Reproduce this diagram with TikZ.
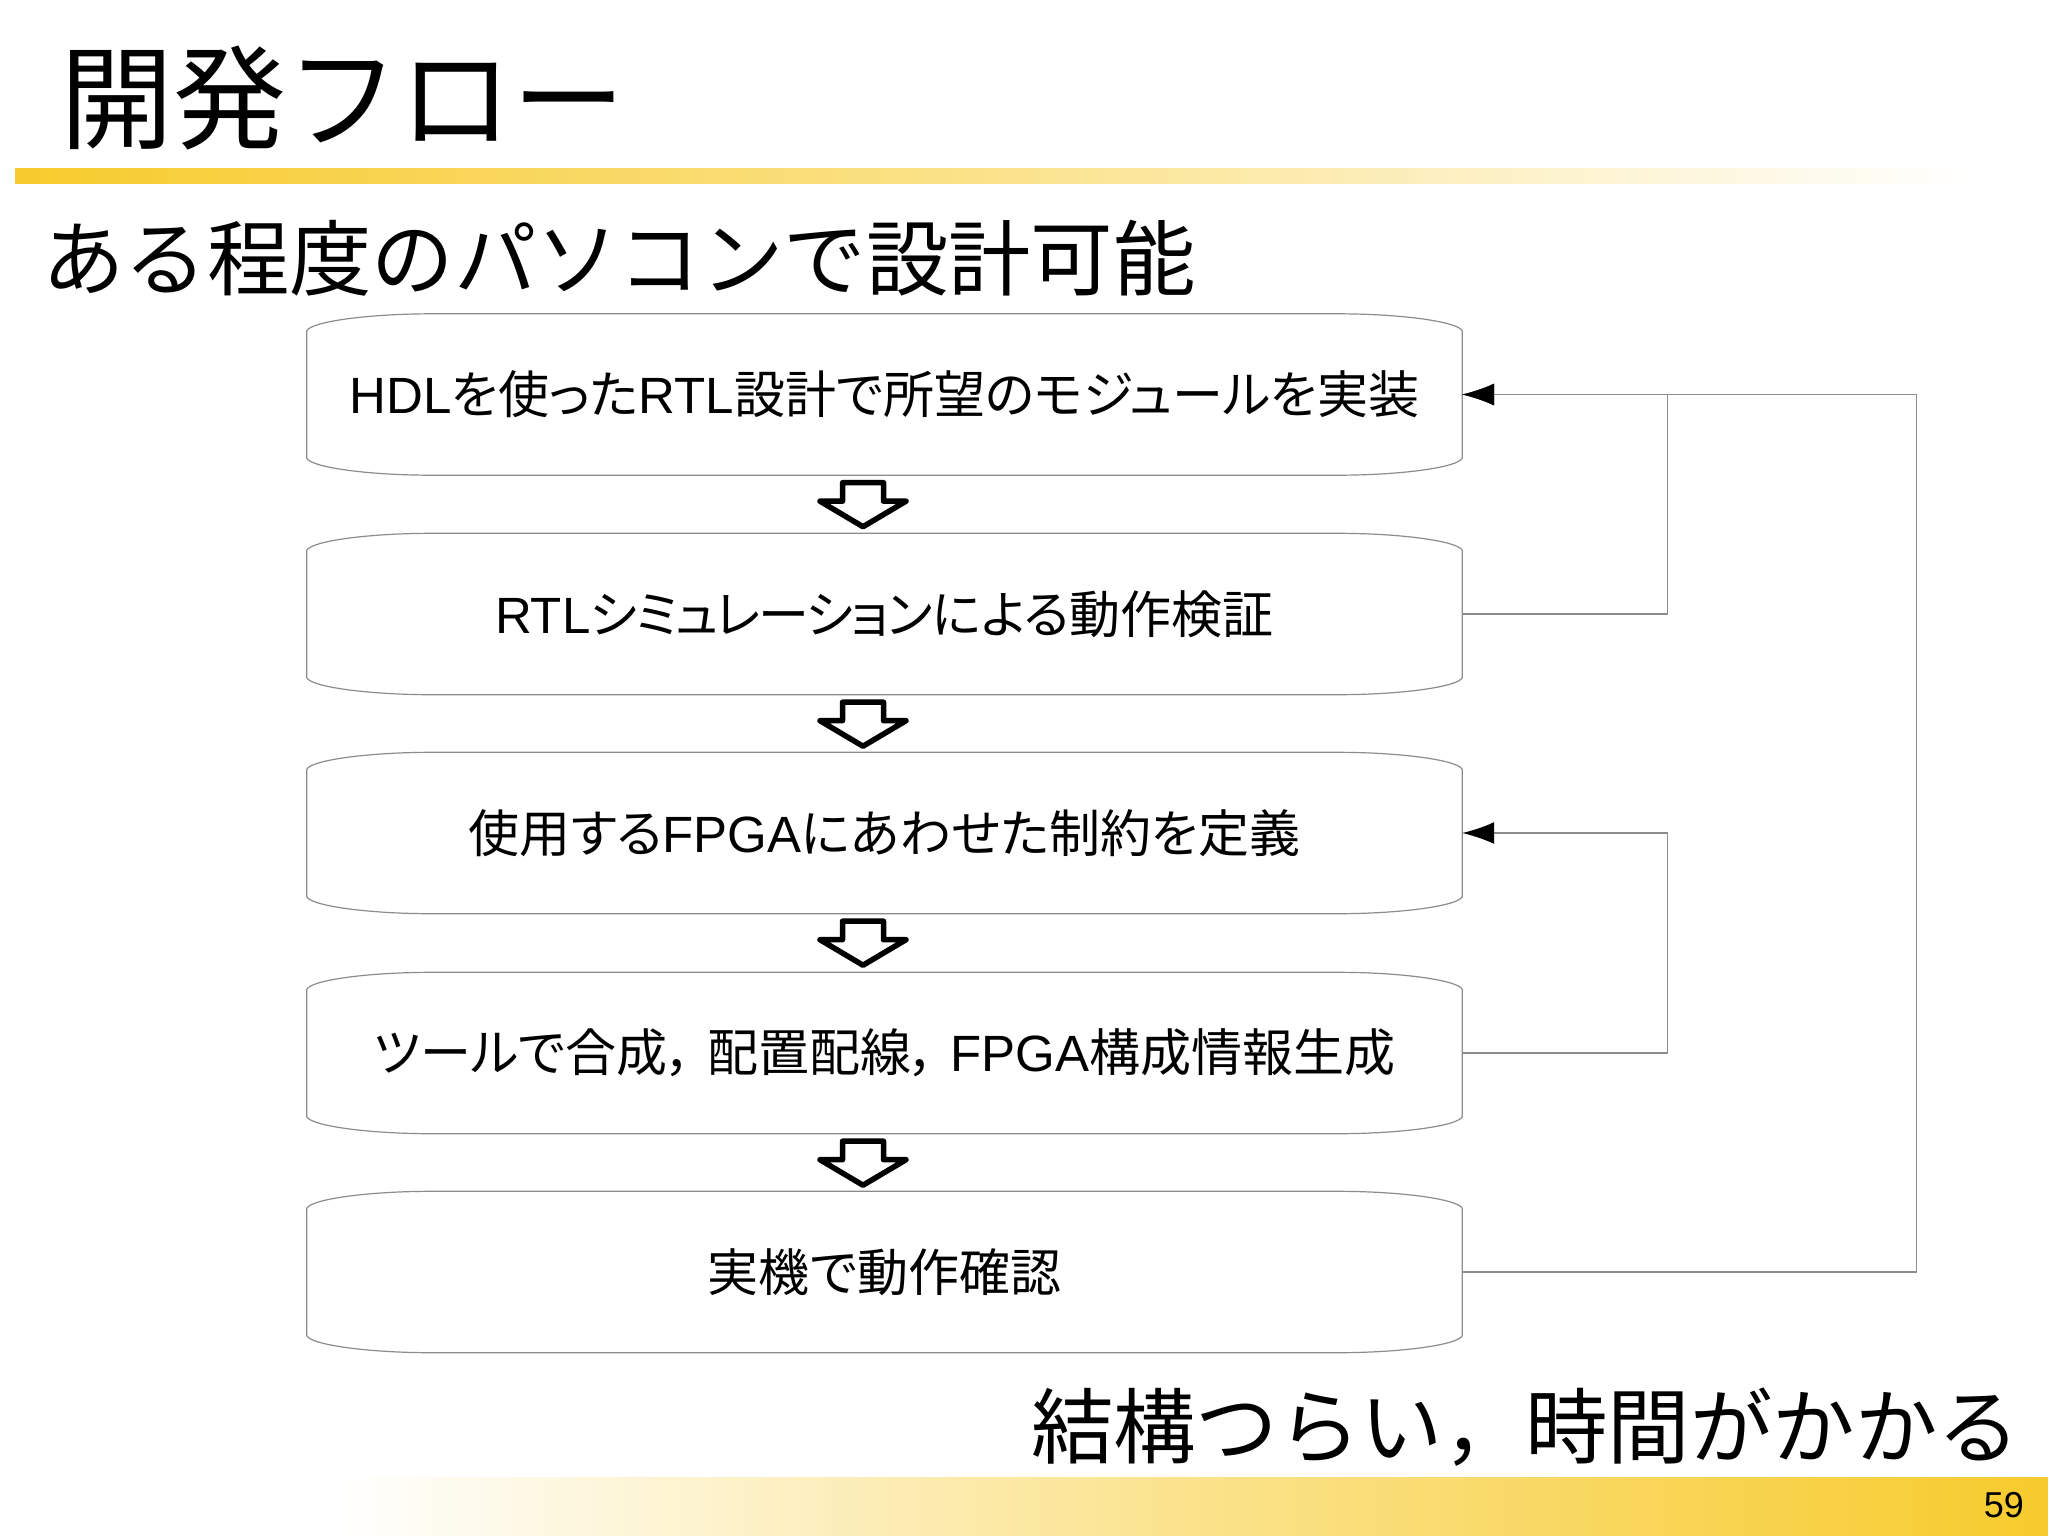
\documentclass[tikz,border=0pt]{standalone}
\usepackage{fontspec}
\setmainfont{Noto Sans CJK JP}
\newfontfamily\boxfont[RawFeature=+palt]{Noto Sans CJK JP}
\newfontfamily\latn{Liberation Sans}
\usetikzlibrary{arrows.meta,calc}
\definecolor{bandgold}{HTML}{F7CB2D}
\definecolor{linegray}{HTML}{8C8C8C}
\newcommand{\lat}[1]{{\latn #1}}
\newcommand{\flowbox}[1]{%
  \draw[boxline]
    ($(#1.north west)+(0,17)$)
      .. controls ($(#1.north west)+(4,8)$) and ($(#1.north west)+(60,0)$) .. ($(#1.north west)+(125,0)$)
      -- ($(#1.north east)+(-125,0)$)
      .. controls ($(#1.north east)+(-60,0)$) and ($(#1.north east)+(-4,8)$) .. ($(#1.north east)+(0,17)$)
      -- ($(#1.south east)+(0,-17)$)
      .. controls ($(#1.south east)+(-4,-8)$) and ($(#1.south east)+(-60,0)$) .. ($(#1.south east)+(-125,0)$)
      -- ($(#1.south west)+(125,0)$)
      .. controls ($(#1.south west)+(60,0)$) and ($(#1.south west)+(4,-8)$) .. ($(#1.south west)+(0,-17)$)
      -- cycle;}
\newcommand{\blockarrow}[1]{%
  \draw[hollowarrow] ($(#1.south)+(-42,7.5)$) -- ++(41,0) -- ++(0,18.5) -- ++(22.5,0)
    -- ++(-43,25.5) -- ++(-43,-25.5) -- ++(22.5,0) -- cycle;}
\tikzset{
  flowstep/.style={minimum width=1155pt,minimum height=161pt,inner sep=0pt,font=\boxfont\fontsize{51}{56}\selectfont},
  boxline/.style={draw=linegray,line width=1.2pt},
  feedback/.style={draw=linegray,line width=1.3pt,-{Latex[length=32pt,width=22pt,black]}},
  hollowarrow/.style={draw=black,line width=5.5pt,line join=round,fill=white},
  titletext/.style={anchor=base west,inner sep=0pt,font=\fontsize{113}{120}\selectfont},
  headtext/.style={inner sep=0pt,font=\fontsize{82.4}{90}\selectfont},
  pagenum/.style={anchor=east,inner sep=0pt,font=\latn\fontsize{36}{40}\selectfont},
  bandshade/.style={middle color=bandgold!55}
}
\begin{document}
\begin{tikzpicture}[x=1pt,y=-1pt]
\useasboundingbox (0,0) rectangle (2048,1535);
\fill[white] (0,0) rectangle (2048,1535);
\shade[left color=bandgold,right color=white,bandshade] (15,168) rectangle (1972,183);
\shade[left color=white,right color=bandgold,bandshade] (335,1477) rectangle (2048,1535);
\node[titletext] (title) at (60,140) {開発フロー};
\node[headtext,anchor=base west] (head) at (42,289) {ある程度のパソコンで設計可能};
\node[headtext,anchor=base east] (foot) at (2020,1457) {結構つらい，時間がかかる};
\node[pagenum] (page) at (2024,1505) {59};
\node[flowstep] (b1) at (884.5,394.5) {\lat{HDL}を使った\lat{RTL}設計で所望のモジュールを実装};
\node[flowstep] (b2) at (884.5,614) {\lat{RTL}{\addfontfeature{LetterSpace=-4}シミュレーション}による動作検証};
\node[flowstep] (b3) at (884.5,833) {使用する\lat{FPGA}にあわせた制約を定義};
\node[flowstep] (b4) at (884.5,1053) {ツールで合成，\hspace{14pt}配置配線，\hspace{14pt}\lat{FPGA}構成情報生成};
\node[flowstep] (b5) at (884.5,1272) {実機で動作確認};
\foreach \n in {b1,b2,b3,b4,b5}{\flowbox{\n}}
\foreach \n in {b1,b2,b3,b4}{\blockarrow{\n}}
\draw[feedback] (b5.east) -- ++(454,0) |- (b1.east);
\draw[feedback] (b2.east) -- ++(205,0) |- (b1.east);
\draw[feedback] (b4.east) -- ++(205,0) |- (b3.east);
\end{tikzpicture}
\end{document}
